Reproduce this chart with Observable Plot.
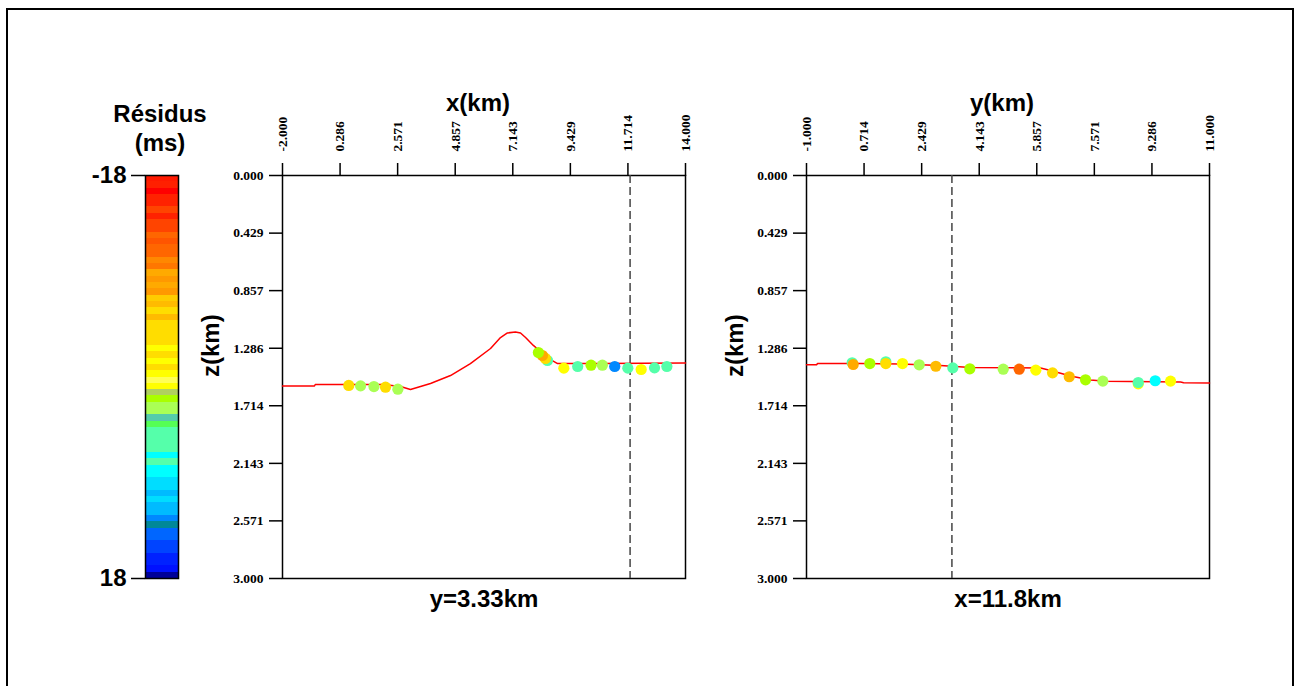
<!DOCTYPE html>
<html><head><meta charset="utf-8">
<script src="https://cdn.jsdelivr.net/npm/d3@7"></script>
<script src="https://cdn.jsdelivr.net/npm/@observablehq/plot@0.6"></script>
<style>
html,body{margin:0;padding:0;background:#fff;width:1294px;height:686px;overflow:hidden;}
#page{position:relative;width:1294px;height:686px;}
#border{position:absolute;left:6px;top:8px;width:1288px;height:720px;border:2px solid #000;box-sizing:border-box;}
.panel{position:absolute;}
</style></head><body><div id="page"><div id="border"></div></div>
<script>
// ---------- data ----------
// colour palette of the residual bar (64 bands, from -18 ms at top to +18 ms at bottom)
const bandColors = [
  "#ff1a00","#ff2000","#ff0000","#ff2200","#ff2200","#ff4400","#ff2200","#ff4400",
  "#ff4400","#ff6600","#ff5500","#ff6600","#ff6600","#ff8800","#ff7700","#ffaa00",
  "#ff9900","#ffaa00","#ff9900","#ffcc00","#ffbb00","#ffdd00","#ffbb00","#ffdd00",
  "#ffdd00","#ffdd00","#ffdd00","#ffff00","#ffdd00","#ffff00","#ffdd00","#ffff00",
  "#ffff55","#ffff00","#b0d060","#aaff00","#aaff55","#aaff55","#55ccaa","#55ff55",
  "#55ffaa","#55ffaa","#55ffaa","#55ffaa","#00ffff","#55ffaa","#00ffff","#00ffff",
  "#00ddff","#00ddff","#00bbff","#00ddff","#00bbff","#00bbff","#0088ff","#008899",
  "#0066ff","#0066ff","#0044ff","#0044ff","#0022ff","#0022ff","#0011ff","#000099"
];
const resMin = -18, resMax = 18;
const resTicks = [-18, 18];
const cbarTitle1 = "Résidus", cbarTitle2 = "(ms)";

// left panel: section at y = 3.33 km
const xTicksL = [-2.000, 0.286, 2.571, 4.857, 7.143, 9.429, 11.714, 14.000];
const zTicks  = [0.000, 0.429, 0.857, 1.286, 1.714, 2.143, 2.571, 3.000];
const curveL_x = [-2, -0.73, -0.70, 2.0, 2.685, 3.08, 3.48, 3.876, 4.67, 5.46, 6.26, 6.655, 6.93, 7.25, 7.45, 7.65, 7.96, 8.24, 8.56, 8.92, 10.62, 14];
const curveL_z = [1.567, 1.567, 1.556, 1.556, 1.571, 1.593, 1.571, 1.548, 1.489, 1.400, 1.288, 1.206, 1.172, 1.165, 1.172, 1.206, 1.265, 1.310, 1.362, 1.400, 1.400, 1.396];
const dotsL_x   = [0.63, 1.10, 1.63, 2.58, 2.09, 8.52, 8.44, 8.32, 8.16, 9.17, 9.72, 10.25, 10.70, 11.19, 11.71, 12.24, 12.77, 13.26];
const dotsL_z   = [1.563, 1.566, 1.571, 1.591, 1.576, 1.377, 1.362, 1.340, 1.318, 1.434, 1.422, 1.412, 1.412, 1.422, 1.434, 1.444, 1.432, 1.422];
const dotsL_res = [-4.2, 2.8, 2.8, 2.8, -4.2, 6.0, -4.2, -9.3, 2.0, -0.3, 5.5, 2.0, 2.8, 12.7, 6.0, -0.3, 6.0, 6.0];
const sliceL = 11.8;
const xTitleL = "x(km)", bottomL = "y=3.33km";

// right panel: section at x = 11.8 km
const yTicksR = [-1.000, 0.714, 2.429, 4.143, 5.857, 7.571, 9.286, 11.000];
const curveR_y = [-1, -0.70, -0.67, 0.61, 1.80, 2.99, 3.88, 5.97, 6.27, 6.86, 7.46, 7.91, 10.14, 10.23, 11];
const curveR_z = [1.409, 1.409, 1.399, 1.399, 1.403, 1.414, 1.429, 1.433, 1.452, 1.493, 1.522, 1.531, 1.538, 1.543, 1.545];
const dotsR_y   = [0.36, 0.391, 0.885, 1.362, 1.362, 1.859, 2.356, 2.851, 3.357, 3.863, 4.858, 5.334, 5.829, 6.326, 6.823, 7.309, 7.824, 8.878, 8.878, 9.384, 9.840];
const dotsR_z   = [1.394, 1.407, 1.400, 1.387, 1.400, 1.400, 1.409, 1.420, 1.432, 1.439, 1.442, 1.442, 1.449, 1.469, 1.498, 1.521, 1.531, 1.551, 1.541, 1.528, 1.531];
const dotsR_res = [6.0, -9.3, 2.0, 6.5, -4.2, -0.3, 2.8, -5.3, 6.0, 2.0, 2.8, -11.5, -0.3, -4.2, -5.3, 2.0, 2.8, -0.3, 7.5, 8.5, -0.3];
const sliceR = 3.33;
const xTitleR = "y(km)", bottomR = "x=11.8km";
const zTitle = "z(km)";

// ---------- build ----------
const nb = bandColors.length;
const thresholds = d3.range(1, nb).map(k => resMin + k * (resMax - resMin) / nb);
const colorScale = {type: "threshold", domain: thresholds, range: bandColors};
const bands = bandColors.map((c, i) => ({lo: resMin + i * (resMax - resMin) / nb, hi: resMin + (i + 1) * (resMax - resMin) / nb}));

const fmt3 = d => d.toFixed(3);
const sans = {fontFamily: "Liberation Sans", fontWeight: "bold", fontSize: 24};
const serifStyle = {background: "transparent", color: "#000", overflow: "visible",
  fontFamily: "Liberation Serif", fontWeight: "bold", fontSize: "13.5px"};

function place(svg, left, top) {
  const div = document.createElement("div");
  div.className = "panel";
  div.style.left = left + "px";
  div.style.top = top + "px";
  div.appendChild(svg);
  document.getElementById("page").appendChild(div);
}

function section({xDomain, xTicks, curveX, curveZ, dX, dZ, dR, slice, xTitle, bottom}) {
  const curve = curveX.map((x, i) => ({x, z: curveZ[i]}));
  const dots = dX.map((x, i) => ({x, z: dZ[i], res: dR[i]}));
  return Plot.plot({
    width: 507, height: 543,
    marginLeft: 92, marginRight: 12, marginTop: 95, marginBottom: 45,
    style: serifStyle,
    x: {domain: xDomain},
    y: {domain: [0, 3], reverse: true},
    color: colorScale,
    marks: [
      Plot.frame({stroke: "#000", strokeWidth: 1.5}),
      Plot.axisX(xTicks, {anchor: "top", tickSize: 13, tickPadding: 11, tickRotate: -90, tickFormat: fmt3, strokeWidth: 1.5, label: null, fontSize: 13.5}),
      Plot.axisY(zTicks, {anchor: "left", tickSize: 13, tickPadding: 6, tickFormat: fmt3, strokeWidth: 1.5, label: null, fontSize: 13.5}),
      Plot.ruleX([slice], {stroke: "#444", strokeWidth: 1.5, strokeDasharray: "8,4"}),
      Plot.line(curve, {x: "x", y: "z", stroke: "#ff0000", strokeWidth: 1.5}),
      Plot.dot(dots, {x: "x", y: "z", r: 5.6, fill: "res"}),
      Plot.text([xTitle], {text: d => d, frameAnchor: "top", dx: -6, dy: -82, ...sans}),
      Plot.text([zTitle], {text: d => d, frameAnchor: "left", dx: -71, rotate: -90, ...sans}),
      Plot.text([bottom], {text: d => d, frameAnchor: "bottom", dy: 28, ...sans})
    ]
  });
}

const cbar = Plot.plot({
  width: 123, height: 543,
  marginLeft: 85, marginRight: 5, marginTop: 95, marginBottom: 45,
  style: {background: "transparent", color: "#000", overflow: "visible",
    fontFamily: "Liberation Sans", fontWeight: "bold", fontSize: "24px"},
  x: {domain: [0, 1], axis: null},
  y: {domain: [resMin, resMax], reverse: true},
  color: colorScale,
  marks: [
    Plot.rect(bands, {x1: 0, x2: 1, y1: "lo", y2: "hi", fill: d => (d.lo + d.hi) / 2, shapeRendering: "crispEdges"}),
    Plot.frame({stroke: "#000", strokeWidth: 1.5}),
    Plot.axisY(resTicks, {anchor: "left", tickSize: 14, tickPadding: 5, tickFormat: d => String(d), strokeWidth: 1.5, label: null, fontSize: 24}),
    Plot.text([cbarTitle1], {text: d => d, frameAnchor: "top", dx: -2, dy: -71, ...sans}),
    Plot.text([cbarTitle2], {text: d => d, frameAnchor: "top", dx: -2, dy: -42, ...sans})
  ]
});
place(cbar, 60, 80);

place(section({xDomain: [-2, 14], xTicks: xTicksL, curveX: curveL_x, curveZ: curveL_z, dX: dotsL_x, dZ: dotsL_z, dR: dotsL_res, slice: sliceL, xTitle: xTitleL, bottom: bottomL}), 190, 80);
place(section({xDomain: [-1, 11], xTicks: yTicksR, curveX: curveR_y, curveZ: curveR_z, dX: dotsR_y, dZ: dotsR_z, dR: dotsR_res, slice: sliceR, xTitle: xTitleR, bottom: bottomR}), 714, 80);
</script>
</body></html>
